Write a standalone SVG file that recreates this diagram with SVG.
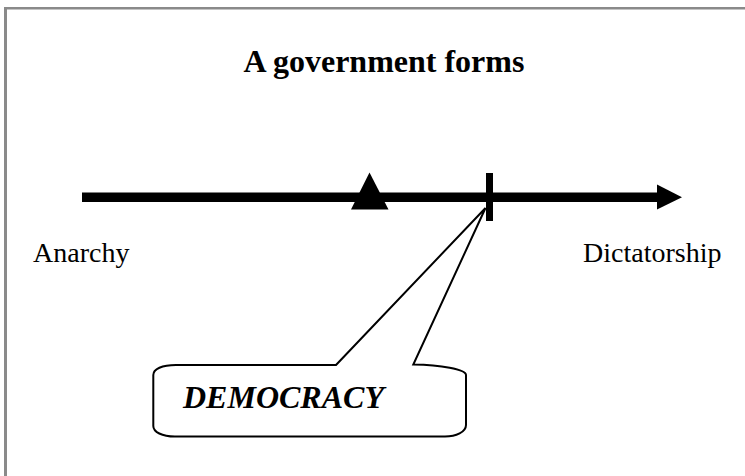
<svg xmlns="http://www.w3.org/2000/svg" width="745" height="476" viewBox="0 0 745 476">
<style>
.t{font-family:"Liberation Serif","Times New Roman",serif;fill:#000}
.frame{fill:#8a8a8a}
.callout{fill:#fff;stroke:#000;stroke-width:2}
</style>
<rect width="745" height="476" fill="#fff"/>
<rect class="frame" x="4" y="7" width="741" height="2.5"/>
<rect class="frame" x="4" y="7" width="3" height="469"/>
<text id="title" class="t" x="384" y="72" font-size="32" font-weight="bold" text-anchor="middle">A government forms</text>
<g id="connectors">
<rect x="82" y="192.5" width="577" height="9.5" fill="#000"/>
<polygon points="657,184.5 682,197.3 657,209.5" fill="#000"/>
</g>
<g id="marker-triangle"><polygon points="369.5,172.5 351,209.5 388.5,209.5" fill="#000"/></g>
<g id="marker-tick"><rect x="486" y="173" width="7" height="48" fill="#000"/></g>
<g id="label-anarchy"><text class="t" x="33" y="262" font-size="28">Anarchy</text></g>
<g id="label-dictatorship"><text class="t" x="583" y="262" font-size="28">Dictatorship</text></g>
<g id="democracy">
<path class="callout" d="M336,365 L485.5,208 L413.3,364.5 C440,365 466,369 466,375 L466,425 C466,432 456,436.5 445,436.5 L175,436.5 C162,436.5 153.3,432 153.3,426 L153.3,375 C153.3,369 162,365 176,365 Z"/>
<text class="t" x="183" y="408" font-size="32" font-weight="bold" font-style="italic">DEMOCRACY</text>
</g>
</svg>
